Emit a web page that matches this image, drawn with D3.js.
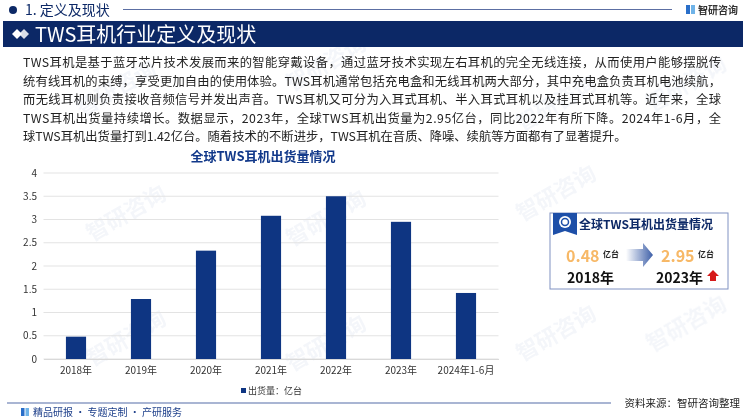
<!DOCTYPE html>
<html><head><meta charset="utf-8">
<script src="https://cdn.jsdelivr.net/npm/d3@7"></script>
<style>body{margin:0;background:#fff;}svg{display:block;font-family:"Noto Sans CJK SC","Noto Sans",sans-serif;}</style>
</head><body>
<svg id="c" width="750" height="420"></svg>
<script>
const categories = ["2018年","2019年","2020年","2021年","2022年","2023年","2024年1-6月"];
const shipments = [0.48, 1.29, 2.33, 3.08, 3.5, 2.95, 1.42];
const yTicks = [0, 0.5, 1, 1.5, 2, 2.5, 3, 3.5, 4];
const paragraph = [
 "TWS耳机是基于蓝牙芯片技术发展而来的智能穿戴设备，通过蓝牙技术实现左右耳机的完全无线连接，从而使用户能够摆脱传",
 "统有线耳机的束缚，享受更加自由的使用体验。TWS耳机通常包括充电盒和无线耳机两大部分，其中充电盒负责耳机电池续航，",
 "而无线耳机则负责接收音频信号并发出声音。TWS耳机又可分为入耳式耳机、半入耳式耳机以及挂耳式耳机等。近年来，全球",
 "TWS耳机出货量持续增长。数据显示，2023年，全球TWS耳机出货量为2.95亿台，同比2022年有所下降。2024年1-6月，全",
 "球TWS耳机出货量打到1.42亿台。随着技术的不断进步，TWS耳机在音质、降噪、续航等方面都有了显著提升。"
];

const svg = d3.select("#c");
const navy = "#0c2866";
const barColor = "#0e3582";

// faint watermarks
const wm = svg.append("g").attr("opacity", 0.05).attr("fill", "#1f4e9c").attr("font-weight", "bold");
[[120,95],[330,70],[560,110],[130,220],[330,225],[560,200],[130,345],[330,350],[560,340],[690,90],[690,330]].forEach(([x,y])=>{
  wm.append("text").attr("transform", `translate(${x},${y}) rotate(-30)`).attr("font-size", 22).attr("text-anchor","middle").text("智研咨询");
});

// header
svg.append("circle").attr("cx", 13).attr("cy", 10).attr("r", 4).attr("fill", navy);
svg.append("text").attr("x", 25).attr("y", 15).attr("font-size", 14).attr("fill", navy).text("1. 定义及现状");
svg.append("line").attr("x1", 123).attr("x2", 672).attr("y1", 9.5).attr("y2", 9.5).attr("stroke", "#5c6fa3").attr("stroke-width", 1);
// logo
svg.append("rect").attr("x", 686).attr("y", 5).attr("width", 4).attr("height", 9).attr("fill", "#2a6fc9");
svg.append("rect").attr("x", 691).attr("y", 5).attr("width", 4).attr("height", 9).attr("fill", "#6fb3e8");
svg.append("text").attr("x", 698).attr("y", 14).attr("font-size", 10).attr("font-weight", "bold").attr("fill", "#333").text("智研咨询");

// title bar
svg.append("rect").attr("x", 3).attr("y", 21).attr("width", 740).attr("height", 26).attr("fill", navy);
svg.append("path").attr("d", "M12,34 L17,29 L22,34 L17,39 Z").attr("fill", "#fff");
svg.append("path").attr("d", "M19,34 L24,29 L29,34 L24,39 Z").attr("fill", "#fff").attr("opacity", 0.85);
svg.append("text").attr("x", 35).attr("y", 42).attr("font-size", 20).attr("fill", "#fff").text("TWS耳机行业定义及现状");

// paragraph
const lineY = [67, 85.5, 104, 122.5, 141];
paragraph.forEach((t, i) => {
  const tx = svg.append("text").attr("x", 23).attr("y", lineY[i]).attr("font-size", 12.3).attr("fill", "#222").text(t);
  if (i < 4) tx.attr("textLength", 698).attr("lengthAdjust", "spacing");
});

// chart title
svg.append("text").attr("x", 263).attr("y", 161).attr("text-anchor", "middle").attr("font-size", 13).attr("font-weight", "bold").attr("fill", "#12398a").text("全球TWS耳机出货量情况");

// chart
const x = d3.scaleBand().domain(categories).range([43.5, 498.5]).paddingInner(0.69).paddingOuter(0.345);
const y = d3.scaleLinear().domain([0, 4]).range([359, 173]);

const grid = svg.append("g");
grid.selectAll("line").data(yTicks).join("line")
  .attr("x1", 43.5).attr("x2", 498.5).attr("y1", d => y(d)).attr("y2", d => y(d))
  .attr("stroke", "#e3e3e3").attr("stroke-width", 1);

const yAxis = svg.append("g").attr("transform", "translate(43,0)")
  .call(d3.axisLeft(y).tickValues(yTicks).tickSize(0).tickPadding(6).tickFormat(d3.format("")));
yAxis.select(".domain").remove();
yAxis.selectAll("text").attr("font-size", 10).attr("fill", "#333").attr("font-family", "'Noto Sans CJK SC',sans-serif");

svg.append("g").selectAll("rect").data(shipments).join("rect")
  .attr("x", (d, i) => x(categories[i])).attr("width", x.bandwidth())
  .attr("y", d => y(d)).attr("height", d => y(0) - y(d)).attr("fill", barColor);

const xAxis = svg.append("g").attr("transform", "translate(0,359)")
  .call(d3.axisBottom(x).tickSize(0).tickPadding(8));
xAxis.select(".domain").attr("stroke", "#d9d9d9");
xAxis.selectAll("text").attr("font-size", 10).attr("fill", "#333").attr("font-family", "'Noto Sans CJK SC',sans-serif");

// legend
svg.append("rect").attr("x", 241).attr("y", 388).attr("width", 5).attr("height", 5).attr("fill", barColor);
svg.append("text").attr("x", 248).attr("y", 394).attr("font-size", 9).attr("fill", "#333").text("出货量：亿台");

// info box
const bx = 550, by = 213;
svg.append("rect").attr("x", bx).attr("y", by).attr("width", 178).attr("height", 76).attr("fill", "#fff").attr("stroke", "#8092c2").attr("stroke-width", 1);
svg.append("path").attr("d", `M${bx+3},${by} L${bx+27},${by} L${bx+27},${by+22} L${bx+15},${by+18} L${bx+3},${by+22} Z`).attr("fill", "#1d4fa8");
svg.append("circle").attr("cx", bx+15).attr("cy", by+9).attr("r", 6).attr("fill", "#fff");
svg.append("circle").attr("cx", bx+15).attr("cy", by+9).attr("r", 3.5).attr("fill", "none").attr("stroke", "#1d4fa8").attr("stroke-width", 1.5);
svg.append("text").attr("x", 579).attr("y", by+16).attr("font-size", 12).attr("font-weight", "bold").attr("fill", "#0c2866").text("全球TWS耳机出货量情况");

const orange = "#f7b866";
svg.append("text").attr("x", 566).attr("y", 262).attr("font-size", 16).attr("font-weight", 600).attr("fill", orange).text(shipments[0].toFixed(2));
svg.append("text").attr("x", 603).attr("y", 257).attr("font-size", 8).attr("font-weight", "bold").attr("fill", "#222").text("亿台");
svg.append("text").attr("x", 567).attr("y", 283).attr("font-size", 14).attr("font-weight", "bold").attr("fill", "#111").text(categories[0]);

const defs = svg.append("defs");
const gr = defs.append("linearGradient").attr("id", "ag").attr("x1", "0").attr("x2", "1");
gr.append("stop").attr("offset", "0").attr("stop-color", "#ffffff");
gr.append("stop").attr("offset", "1").attr("stop-color", "#3d5fa8");
svg.append("path").attr("d", "M626,249 L643,249 L643,243 L653,255 L643,267 L643,261 L626,261 Z").attr("fill", "url(#ag)");

svg.append("text").attr("x", 661).attr("y", 262).attr("font-size", 16).attr("font-weight", 600).attr("fill", orange).text(shipments[5].toFixed(2));
svg.append("text").attr("x", 698).attr("y", 257).attr("font-size", 8).attr("font-weight", "bold").attr("fill", "#222").text("亿台");
svg.append("text").attr("x", 656).attr("y", 283).attr("font-size", 14).attr("font-weight", "bold").attr("fill", "#111").text(categories[5]);
svg.append("path").attr("d", "M713,270 L719,276 L716,276 L716,281 L710,281 L710,276 L707,276 Z").attr("fill", "#d61a1a");

// footer
svg.append("line").attr("x1", 7).attr("x2", 611).attr("y1", 403).attr("y2", 403).attr("stroke", "#8d9cc4").attr("stroke-width", 1.5);
svg.append("rect").attr("x", 21).attr("y", 408).attr("width", 3.5).attr("height", 8).attr("fill", "#2a6fc9");
svg.append("rect").attr("x", 25.5).attr("y", 408).attr("width", 3.5).attr("height", 8).attr("fill", "#6fb3e8");
svg.append("text").attr("x", 33).attr("y", 416).attr("font-size", 10).attr("fill", "#1d3f8a").text("精品研报 · 专题定制 · 产研服务");
svg.append("text").attr("x", 740).attr("y", 407).attr("text-anchor", "end").attr("font-size", 10.5).attr("fill", "#222").text("资料来源：智研咨询整理");
</script>
</body></html>
